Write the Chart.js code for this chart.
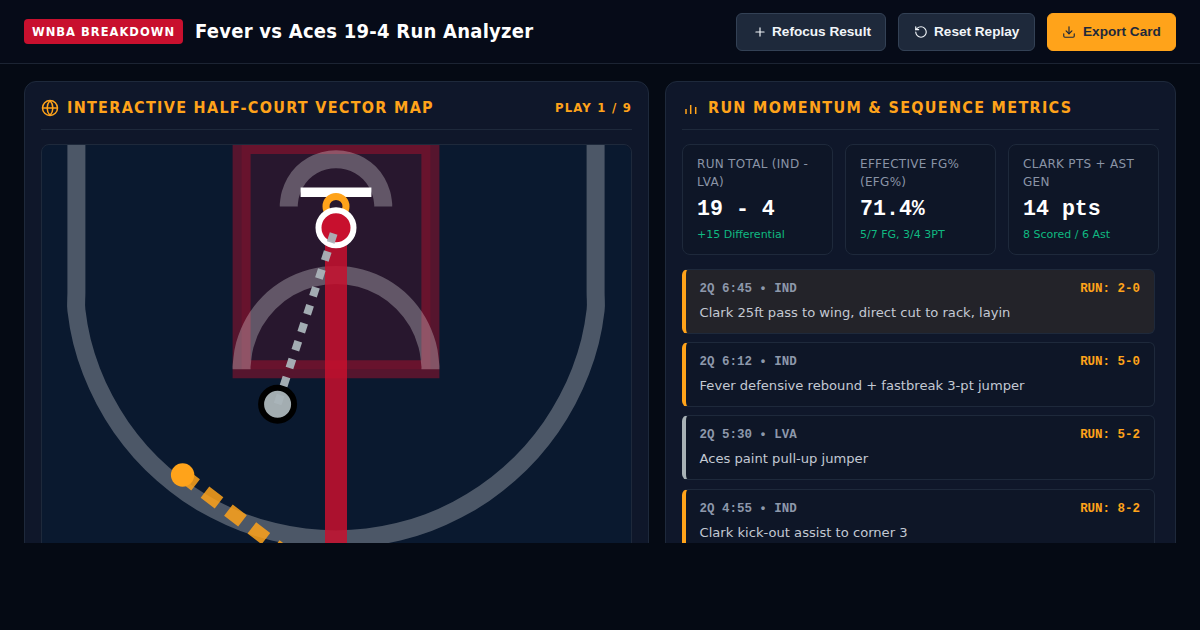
<!DOCTYPE html>
<html>
<head>
<meta charset="utf-8">
<title>Fever vs Aces 19-4 Run Analyzer</title>
<script src="https://cdn.jsdelivr.net/npm/chart.js@4"></script>
<style>
* { box-sizing: border-box; }
html, body { margin: 0; width: 1200px; height: 630px; overflow: hidden; background: #050a14; font-family: "DejaVu Sans", sans-serif; }
#page { position: absolute; left: 0; top: 0; width: 1200px; height: 543px; overflow: hidden; }
#topbar { position: absolute; left: 0; top: 0; width: 1200px; height: 64px; background: #060b18; border-bottom: 1px solid #1c2433; }
#badge { position: absolute; left: 24px; top: 19px; width: 159px; height: 25px; background: #c8102e; border-radius: 4px; color: #fff; font-family: "DejaVu Sans Condensed", "DejaVu Sans", sans-serif; font-weight: 700; font-size: 12.8px; letter-spacing: 1px; line-height: 25px; text-align: center; }
#title { position: absolute; left: 195px; top: 19px; color: #fff; font-family: "DejaVu Sans Condensed", "DejaVu Sans", sans-serif; font-weight: 700; font-size: 20px; letter-spacing: .25px; line-height: 25px; white-space: nowrap; }
.btn { position: absolute; top: 13px; height: 38px; border-radius: 6px; background: #1e293b; border: 1px solid #334155; color: #f1f5f9; font: 700 13.6px "Liberation Sans", sans-serif; line-height: 36px; white-space: nowrap; }
.btn svg { position: absolute; top: 11px; width: 14px; height: 14px; }
.btn span { position: absolute; top: 0; }
.panel { position: absolute; top: 81px; height: 600px; background: #0f172a; border: 1px solid #1e293b; border-radius: 12px; }
.head { position: absolute; color: #ffa31a; font-family: "DejaVu Sans Condensed", "DejaVu Sans", sans-serif; font-weight: 700; font-size: 16px; letter-spacing: 1.3px; line-height: 20px; white-space: nowrap; }
.rule { position: absolute; top: 129px; height: 1px; background: #1e293b; }
.abs { position: absolute; }
#court { position: absolute; left: 41px; top: 145px; width: 590px; height: 555px; background: #0a192f; border-radius: 8px; overflow: hidden; }
#courtEdge { position: absolute; left: 41px; top: 144px; width: 591px; height: 560px; border: 1px solid #1e293b; border-radius: 8px; }
.card { position: absolute; top: 144px; width: 151px; height: 111px; background: #0e1627; border: 1px solid #1e293b; border-radius: 8px; }
.card .lab { position: absolute; left: 14px; top: 9.5px; width: 128px; color: #8a94a6; font-size: 12px; letter-spacing: .3px; line-height: 18px; }
.card .val { position: absolute; left: 14px; top: 50px; color: #fff; font: 700 21.6px "Liberation Mono", monospace; line-height: 28px; white-space: nowrap; }
.card .sub { position: absolute; left: 14px; top: 82px; color: #10b981; font-size: 11px; line-height: 16px; white-space: nowrap; }
.play { position: absolute; left: 682px; width: 473px; height: 65px; background: #0e1627; border: 1px solid #1e293b; border-left: 4px solid #ffa31a; border-radius: 6px; }
.play .t { position: absolute; left: 13.5px; top: 11px; color: #8d98ab; font: 700 12.48px "Liberation Mono", monospace; line-height: 16px; white-space: nowrap; }
.play .r { position: absolute; right: 14px; top: 11px; color: #ffa31a; font: 700 12.48px "Liberation Mono", monospace; line-height: 16px; white-space: nowrap; }
.play .d { position: absolute; left: 13.5px; top: 33px; color: #c3c9d3; font-size: 13.12px; line-height: 20px; white-space: nowrap; }
</style>
</head>
<body>
<div id="page">
  <div id="topbar"></div>
  <div id="badge">WNBA BREAKDOWN</div>
  <div id="title">Fever vs Aces 19-4 Run Analyzer</div>

  <div class="btn" style="left:736px;width:150px">
    <svg style="left:16px" viewBox="0 0 24 24" fill="none" stroke="currentColor" stroke-width="2" stroke-linecap="round"><path d="M5 12h14M12 5v14"/></svg>
    <span style="left:35px">Refocus Result</span>
  </div>
  <div class="btn" style="left:898px;width:137px">
    <svg style="left:15px" viewBox="0 0 24 24" fill="none" stroke="currentColor" stroke-width="2" stroke-linecap="round" stroke-linejoin="round"><path d="M3 12a9 9 0 1 0 9-9 9.75 9.75 0 0 0-6.74 2.74L3 8"/><path d="M3 3v5h5"/></svg>
    <span style="left:35px">Reset Replay</span>
  </div>
  <div class="btn" style="left:1047px;width:129px;background:#ffa31a;border-color:#ffa31a;color:#1e293b">
    <svg style="left:14px" viewBox="0 0 24 24" fill="none" stroke="currentColor" stroke-width="2" stroke-linecap="round" stroke-linejoin="round"><path d="M21 15v4a2 2 0 0 1-2 2H5a2 2 0 0 1-2-2v-4"/><path d="M7 10l5 5 5-5"/><path d="M12 15V3"/></svg>
    <span style="left:35px">Export Card</span>
  </div>

  <div class="panel" style="left:24px;width:625px"></div>
  <svg class="abs" style="left:41px;top:99px" width="18" height="18" viewBox="0 0 24 24" fill="none" stroke="#ffa31a" stroke-width="2"><circle cx="12" cy="12" r="10"/><path d="M2 12h20M12 2a15 15 0 0 1 0 20M12 2a15 15 0 0 0 0 20"/></svg>
  <div class="head" style="left:67px;top:98px">INTERACTIVE HALF-COURT VECTOR MAP</div>
  <div class="head" style="right:568px;top:98px;font-size:13px;letter-spacing:1.2px">PLAY 1 / 9</div>
  <div class="rule" style="left:41px;width:591px"></div>

  <div id="court"><canvas id="courtChart" width="590" height="555"></canvas></div>
  <div id="courtEdge"></div>

  <div class="panel" style="left:665px;width:511px"></div>
  <svg class="abs" style="left:682px;top:99px" width="18" height="18" viewBox="0 0 18 18" fill="none" stroke="#ffa31a" stroke-width="1.5"><path d="M4 10v5M8.7 6v9M13.7 8v7"/></svg>
  <div class="head" style="left:708px;top:98px">RUN MOMENTUM &amp; SEQUENCE METRICS</div>
  <div class="rule" style="left:682px;width:477px"></div>

  <div id="cards"></div>
  <div id="plays"></div>
</div>

<script>
// metric cards
const cardLabels = ["RUN TOTAL (IND - LVA)", "EFFECTIVE FG% (EFG%)", "CLARK PTS + AST GEN"];
const cardValues = ["19 - 4", "71.4%", "14 pts"];
const cardNotes = ["+15 Differential", "5/7 FG, 3/4 3PT", "8 Scored / 6 Ast"];

// play list
const playTimes = ["2Q 6:45 • IND", "2Q 6:12 • IND", "2Q 5:30 • LVA", "2Q 4:55 • IND"];
const playRuns = ["RUN: 2-0", "RUN: 5-0", "RUN: 5-2", "RUN: 8-2"];
const playTexts = [
    "Clark 25ft pass to wing, direct cut to rack, layin",
    "Fever defensive rebound + fastbreak 3-pt jumper",
    "Aces paint pull-up jumper",
    "Clark kick-out assist to corner 3"
];

// court lines in court units (500 wide)
const paintX = [170, 170, 330, 330, 170];
const paintY = [0, 190, 190, 0, 0];
const arcX = [30, 30, 30, 30, 34.7, 42.8, 53.9, 67.8, 84.4, 103.3, 124.4, 147.3, 171.7, 197.2, 223.5, 250,
    276.5, 302.8, 328.3, 352.7, 375.6, 396.7, 415.6, 432.2, 446.1, 457.2, 465.3, 470, 470, 470, 470];
const arcY = [0, 70, 125, 140, 166.3, 191.7, 216, 238.9, 259.9, 278.6, 295.1, 308.8, 319.8, 327.6, 332.4, 334,
    332.4, 327.6, 319.8, 308.8, 295.1, 278.6, 259.9, 238.9, 216, 191.7, 166.3, 140, 125, 70, 0];
const laneArcX = [170, 170, 172.7, 180.7, 193.4, 210, 229.3, 250, 270.7, 290, 306.6, 319.3, 327.3, 330, 330];
const laneArcY = [190, 187, 169.3, 150, 133.4, 120.7, 112.7, 110, 112.7, 120.7, 133.4, 150, 169.3, 187, 190];
const rimArcX = [210, 210, 211.4, 215.4, 221.7, 230, 239.6, 250, 260.4, 270, 278.3, 284.6, 288.6, 290, 290];
const rimArcY = [52, 50, 41.6, 32, 23.7, 17.4, 13.4, 12, 13.4, 17.4, 23.7, 32, 41.6, 50, 52];
const boardX = [220, 280];
const boardY = [40, 40];

// player paths and markers
const cutX = [250, 250];
const cutY = [70, 470];
const passX = [248, 200.5];
const passY = [75, 219.5];
const driveX = [119.1, 300];
const driveY = [278.8, 417];
const rimX = [250];
const rimY = [52];
const scorerX = [250];
const scorerY = [70];
const defenderX = [200.5];
const defenderY = [219.5];
const ballX = [120];
const ballY = [279.5];

function pts(xs, ys) {
    return xs.map((x, i) => ({ x: x, y: ys[i] }));
}

const LINE_GREY = "rgba(255,255,255,0.27)";

function courtLine(xs, ys, extra) {
    return Object.assign({
        data: pts(xs, ys),
        showLine: true,
        pointRadius: 0,
        borderColor: LINE_GREY,
        borderWidth: 18,
        tension: 0
    }, extra);
}

function marker(xs, ys, radius, fill, edge, edgeWidth) {
    return {
        data: pts(xs, ys),
        showLine: false,
        pointRadius: radius,
        pointBackgroundColor: fill,
        pointBorderColor: edge,
        pointBorderWidth: edgeWidth
    };
}

// listed bottom layer first, reversed below because Chart.js paints the first dataset last
const layers = [
    courtLine(paintX, paintY, { borderColor: "rgba(200,16,46,0.4)", backgroundColor: "rgba(200,16,46,0.16)", fill: "shape" }),
    courtLine(arcX, arcY, { tension: 0.4 }),
    courtLine(laneArcX, laneArcY, { tension: 0.4 }),
    courtLine(rimArcX, rimArcY, { tension: 0.4 }),
    courtLine(boardX, boardY, { borderColor: "#ffffff", borderWidth: 9.5 }),
    marker(rimX, rimY, 10, "rgba(0,0,0,0)", "#ffa31a", 7),
    courtLine(cutX, cutY, { borderColor: "rgba(200,16,46,0.85)", borderWidth: 22 }),
    marker(scorerX, scorerY, 17.5, "#c8102e", "#ffffff", 6),
    marker(defenderX, defenderY, 16.5, "#a3adb1", "#000000", 6),
    courtLine(passX, passY, { borderColor: "rgba(170,180,185,0.95)", borderWidth: 8, borderDash: [9.44, 9.44] }),
    courtLine(driveX, driveY, { borderColor: "rgba(255,163,26,0.85)", borderWidth: 14.2, borderDash: [17.7, 11.8] }),
    marker(ballX, ballY, 11.7, "#ffa31a", "#ffa31a", 0)
];

new Chart(document.getElementById("courtChart"), {
    type: "scatter",
    data: { datasets: layers.slice().reverse() },
    options: {
        responsive: false,
        animation: false,
        devicePixelRatio: 1,
        layout: { padding: 0, autoPadding: false },
        plugins: { legend: { display: false }, tooltip: { enabled: false } },
        scales: {
            x: { type: "linear", min: 0, max: 500, display: false },
            y: { type: "linear", min: 0, max: 470, reverse: true, display: false }
        }
    }
});

let cardHtml = "";
cardLabels.forEach((label, i) => {
    cardHtml += `<div class="card" style="left:${682 + i * 163}px">
        <div class="lab">${label}</div>
        <div class="val">${cardValues[i]}</div>
        <div class="sub">${cardNotes[i]}</div>
    </div>`;
});
document.getElementById("cards").innerHTML = cardHtml;

let playHtml = "";
playTimes.forEach((time, i) => {
    const bg = i === 0 ? "background:#232329;" : "";
    const edge = time.endsWith("LVA") ? "border-left-color:#a7b1b5;" : "";
    playHtml += `<div class="play" style="top:${269 + i * 73.2}px;${bg}${edge}">
        <div class="t">${time}</div>
        <div class="r">${playRuns[i]}</div>
        <div class="d">${playTexts[i]}</div>
    </div>`;
});
document.getElementById("plays").innerHTML = playHtml;
</script>
</body>
</html>
